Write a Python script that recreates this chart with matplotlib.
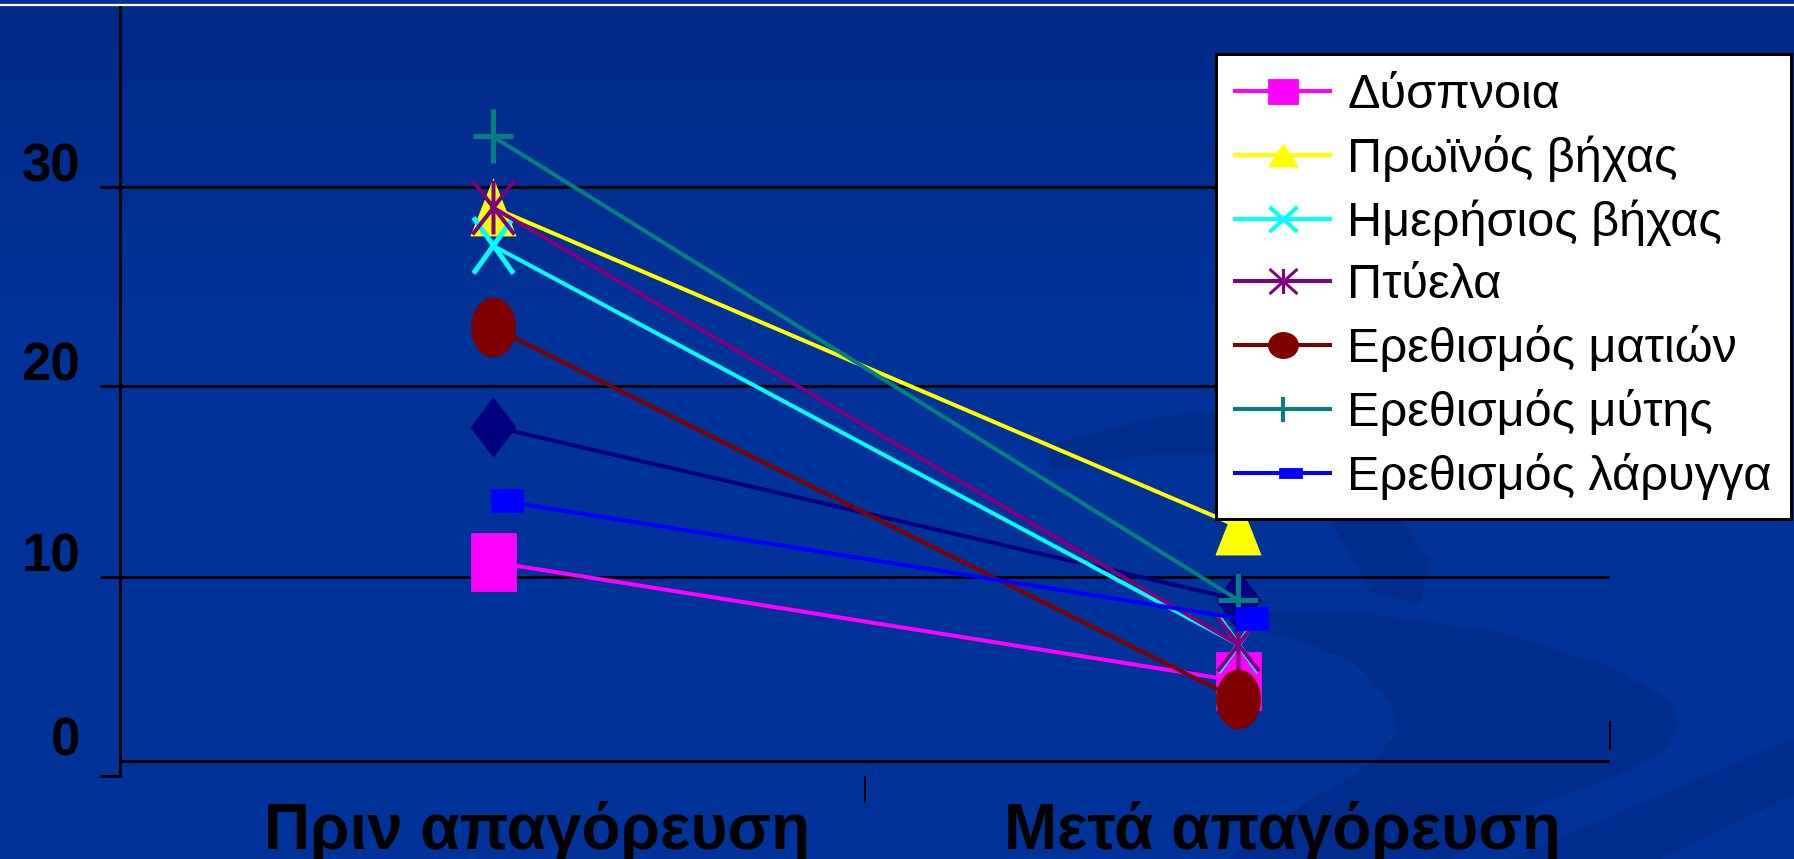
import numpy as np
import matplotlib
matplotlib.use('Agg')
import matplotlib.pyplot as plt
from matplotlib.path import Path
from matplotlib.lines import Line2D
from matplotlib.patches import Polygon
import matplotlib.transforms as mtransforms

plt.rcParams['font.family'] = ['Liberation Sans', 'DejaVu Sans']

# ---------------- data ----------------
categories = ['Πριν απαγόρευση', 'Μετά απαγόρευση']
series_labels = ['Δύσπνοια', 'Πρωϊνός βήχας', 'Ημερήσιος βήχας', 'Πτύελα',
                 'Ερεθισμός ματιών', 'Ερεθισμός μύτης', 'Ερεθισμός λάρυγγα']
unlabelled_series = [17.9, 8.8]      # navy diamonds, no legend entry
dyspnoia = [10.8, 4.4]
morning_cough = [29.0, 12.7]
daytime_cough = [27.1, 6.4]
sputum = [29.0, 6.4]
eye_irritation = [23.0, 3.4]
nose_irritation = [32.5, 8.8]
throat_irritation = [14.1, 7.8]
ytick_values = [0, 10, 20, 30]
ytick_labels = ['0', '10', '20', '30']

# ---------------- styles ----------------
W, H, DPI = 1794, 859, 100
PT = 72.0 / DPI
BG = (0 / 255, 51 / 255, 153 / 255)
LW = 2.9

M, L, C = Path.MOVETO, Path.LINETO, Path.CLOSEPOLY


def make_marker(kind, w, h, dx=0.0):
    if kind == 'rect':
        v = [(dx - w / 2, -h / 2), (dx + w / 2, -h / 2), (dx + w / 2, h / 2),
             (dx - w / 2, h / 2), (dx - w / 2, -h / 2)]
        c = [M, L, L, L, C]
    elif kind == 'tri':
        v = [(0, h / 2), (-w / 2, -h / 2), (w / 2, -h / 2), (0, h / 2)]
        c = [M, L, L, C]
    elif kind == 'diamond':
        v = [(0, h / 2), (w / 2, 0), (0, -h / 2), (-w / 2, 0), (0, h / 2)]
        c = [M, L, L, L, C]
    elif kind == 'ellipse':
        t = np.linspace(0, 2 * np.pi, 61)
        v = list(zip(w / 2 * np.cos(t), h / 2 * np.sin(t)))
        c = [M] + [L] * 59 + [C]
    elif kind == 'x':
        v = [(-w / 2, -h / 2), (w / 2, h / 2), (-w / 2, h / 2), (w / 2, -h / 2)]
        c = [M, L, M, L]
    elif kind == 'star':
        v = [(0, -h / 2), (0, h / 2), (-w / 2, -h / 2), (w / 2, h / 2),
             (-w / 2, h / 2), (w / 2, -h / 2)]
        c = [M, L, M, L, M, L]
    else:  # plus
        v = [(-w / 2, 0), (w / 2, 0), (0, -h / 2), (0, h / 2)]
        c = [M, L, M, L]
    v = np.array(v, dtype=float)
    ms = 2 * np.max(np.abs(v)) * PT
    return Path(v, c), ms


all_series = [unlabelled_series, dyspnoia, morning_cough, daytime_cough,
              sputum, eye_irritation, nose_irritation, throat_irritation]
colors = ['#000080', '#FF00FF', '#FFFF00', '#00FFFF', '#800080', '#800000',
          '#008080', '#0000FF']
plot_markers = [('diamond', 45, 59), ('rect', 45, 58), ('tri', 45, 57),
                ('x', 40, 56), ('star', 42, 54), ('ellipse', 44, 59),
                ('plus', 40, 54), ('rect', 32, 23, 14)]
legend_markers = [('rect', 30, 25), ('tri', 30, 23), ('x', 28, 25),
                  ('star', 28, 25), ('ellipse', 30, 26), ('plus', 25, 25),
                  ('rect', 23, 10, 7)]
filled = [True, True, True, False, False, True, False, True]
open_mew = [0, 0, 0, 5, 4, 0, 5, 0]

# non-linear value axis as in the source picture
c_q = 0.002035


def fwd(y):
    y = np.asarray(y, dtype=float)
    return y + c_q * y * y


def inv(t):
    t = np.asarray(t, dtype=float)
    return (-1 + np.sqrt(np.maximum(1 + 4 * c_q * t, 0))) / (2 * c_q)


fig = plt.figure(figsize=(W / DPI, H / DPI), dpi=DPI, facecolor=BG)

# ---------------- background decoration ----------------
bg = fig.add_axes([0, 0, 1, 1], zorder=-10)
bg.set_xlim(0, W)
bg.set_ylim(H, 0)
bg.axis('off')
rows = np.arange(H)
top_c = np.array([0, 42, 137]) / 255
bot_c = np.array(BG)
frac = np.clip((rows - 7) / 330.0, 0, 1)[:, None]
grad = top_c * (1 - frac) + bot_c * frac
grad[rows < 7] = bot_c
bg.imshow(grad[:, None, :], extent=(0, W, H, 0), aspect='auto', zorder=0)

dark = (0 / 255, 45 / 255, 141 / 255)
swoosh = [(1200, 612), (1357, 612), (1500, 632), (1612, 667), (1670, 700),
          (1680, 725), (1663, 752), (1612, 778), (1530, 808), (1450, 859),
          (1229, 859), (1306, 802), (1370, 765), (1395, 735), (1392, 705),
          (1357, 665), (1300, 640), (1230, 625)]
bg.add_patch(Polygon(swoosh, closed=True, facecolor=dark, edgecolor='none',
                     zorder=1))
upper_arm = [(1050, 445), (1150, 418), (1230, 410), (1320, 450), (1390, 505),
             (1430, 560), (1420, 605), (1370, 590), (1330, 520), (1240, 455),
             (1150, 455), (1050, 470)]
bg.add_patch(Polygon(upper_arm, closed=True, facecolor=dark, edgecolor='none',
                     zorder=1))
bg.add_patch(Polygon([(1794, 738), (1794, 795), (1660, 859), (1510, 859)],
                     closed=True, facecolor=dark, edgecolor='none', zorder=1))
bg.axhline(5, color='white', lw=1.6, zorder=3)

# ---------------- chart ----------------
ax = fig.add_axes([120 / W, 1 - 776 / H, 1490 / W, (776 - 7) / H], zorder=1)
ax.set_facecolor('none')
ax.set_yscale('function', functions=(fwd, inv))

x = np.arange(len(categories))
for vals, col, mk, fl, mw in zip(all_series, colors, plot_markers, filled, open_mew):
    p, ms = make_marker(*mk)
    ax.plot(x, vals, color=col, lw=LW, marker=p, ms=ms,
            mfc=col if fl else 'none', mec=col,
            mew=0.6 if fl else mw * PT, zorder=3)

ax.set_xlim(-0.5, 1.5)
ax.set_ylim(-0.83, 38.76)

ax.set_xticks(x)
ax.set_xticklabels(categories, fontsize=46, fontweight='bold', color='black')
ax.tick_params(axis='x', which='major', length=0, pad=18)
ax.set_xticks([0.5], minor=True)
ax.tick_params(axis='x', which='minor', length=27 * PT, width=2 * PT,
               direction='out', color='black')

ax.set_yticks(ytick_values)
ax.set_yticklabels(ytick_labels, fontsize=38, fontweight='bold', color='black')
ax.tick_params(axis='y', which='major', length=20 * PT, width=3 * PT,
               direction='out', color='black', pad=20 * PT)
ax.set_yticks([-0.83], minor=True)
ax.tick_params(axis='y', which='minor', length=20 * PT, width=3 * PT,
               direction='out', color='black')
ax.yaxis.get_major_ticks()[0].tick1line.set_visible(False)

ax.grid(axis='y', which='major', color='black', lw=3 * PT)

for s in ['top', 'bottom']:
    ax.spines[s].set_visible(False)
ax.spines['left'].set_color('black')
ax.spines['left'].set_linewidth(3 * PT)
ax.spines['right'].set_color('black')
ax.spines['right'].set_linewidth(2 * PT)
ax.spines['right'].set_bounds(0.67, 2.15)

# legend
handles = []
for col, mk, fl, mw in zip(colors[1:], legend_markers, filled[1:], open_mew[1:]):
    p, ms = make_marker(*mk)
    handles.append(Line2D([], [], color=col, lw=LW, marker=p, ms=ms,
                          mfc=col if fl else 'none', mec=col,
                          mew=0.6 if fl else max(mw - 1, 2) * PT))
leg = ax.legend(handles, series_labels, loc='upper right',
                bbox_to_anchor=(1791 / W, 1 - 54 / H),
                bbox_transform=fig.transFigure, borderaxespad=0,
                fontsize=35, frameon=True, fancybox=False, framealpha=1,
                edgecolor='black', facecolor='white', handlelength=1.95,
                handletextpad=0.35, borderpad=0.4, labelspacing=0.35,
                numpoints=1)
leg.get_frame().set_linewidth(3 * PT)
leg.set_zorder(10)

# label offsets (as in the source picture)
off_y = mtransforms.ScaledTranslation(0, 25 / DPI, fig.dpi_scale_trans)
for lab in ax.get_yticklabels():
    lab.set_transform(lab.get_transform() + off_y)
off_x = mtransforms.ScaledTranslation(45 / DPI, 0, fig.dpi_scale_trans)
for lab in ax.get_xticklabels():
    lab.set_transform(lab.get_transform() + off_x)

fig.savefig('out.png', dpi=DPI, facecolor=BG)
